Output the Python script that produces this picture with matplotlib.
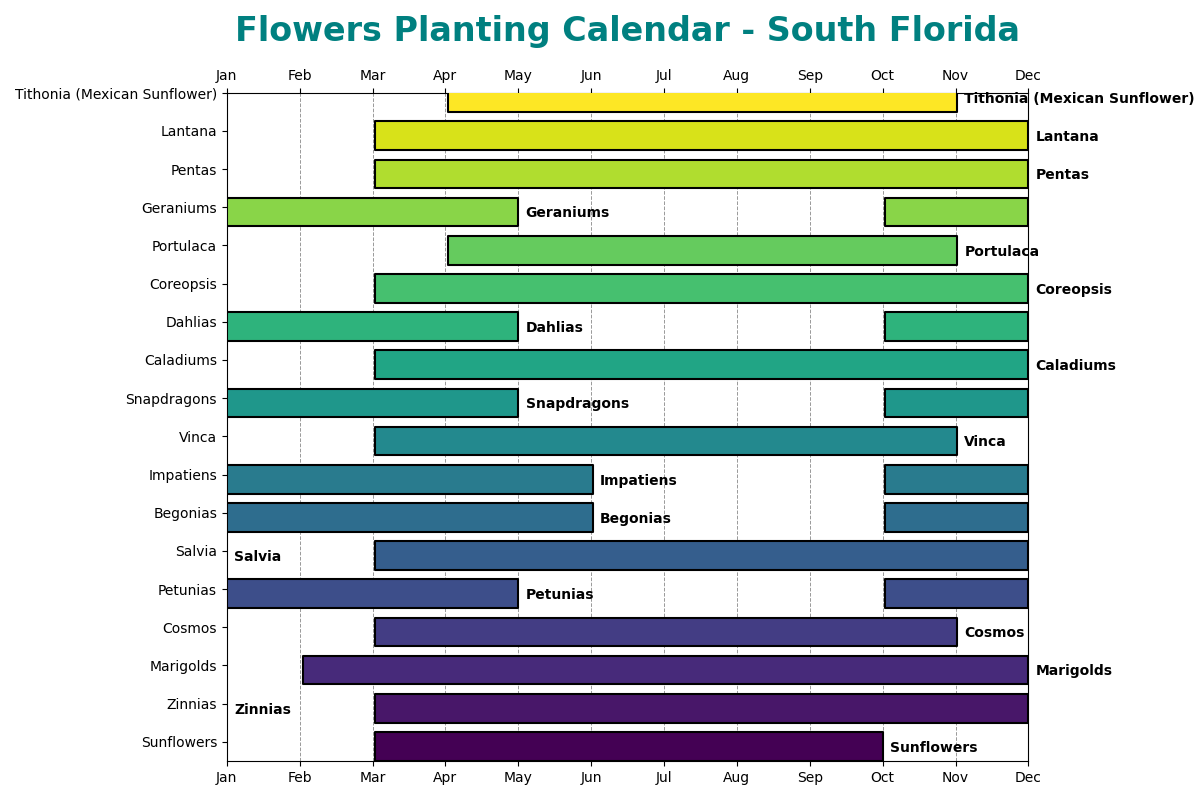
import numpy as np
import matplotlib
matplotlib.use('Agg')
import matplotlib.pyplot as plt

# month index: Jan=0 ... Dec=11
months = ['Jan', 'Feb', 'Mar', 'Apr', 'May', 'Jun', 'Jul', 'Aug', 'Sep', 'Oct', 'Nov', 'Dec']

# bottom row first
flowers = ['Sunflowers', 'Zinnias', 'Marigolds', 'Cosmos', 'Petunias', 'Salvia',
           'Begonias', 'Impatiens', 'Vinca', 'Snapdragons', 'Caladiums', 'Dahlias',
           'Coreopsis', 'Portulaca', 'Geraniums', 'Pentas', 'Lantana',
           'Tithonia (Mexican Sunflower)']

# planting periods (start, end) in months; label goes after the first period
periods = [
    [(2.04, 9.0)],                      # Sunflowers
    [(0, 0), (2.04, 11)],               # Zinnias
    [(1.04, 11)],                       # Marigolds
    [(2.04, 10.02)],                    # Cosmos
    [(0, 4.0), (9.03, 11)],             # Petunias
    [(0, 0), (2.04, 11)],               # Salvia
    [(0, 5.02), (9.03, 11)],            # Begonias
    [(0, 5.02), (9.03, 11)],            # Impatiens
    [(2.04, 10.02)],                    # Vinca
    [(0, 4.0), (9.03, 11)],             # Snapdragons
    [(2.04, 11)],                       # Caladiums
    [(0, 4.0), (9.03, 11)],             # Dahlias
    [(2.04, 11)],                       # Coreopsis
    [(3.04, 10.02)],                    # Portulaca
    [(0, 4.0), (9.03, 11)],             # Geraniums
    [(2.04, 11)],                       # Pentas
    [(2.04, 11)],                       # Lantana
    [(3.04, 10.02)],                    # Tithonia
]

fig, ax = plt.subplots(figsize=(12, 8), dpi=100)
fig.subplots_adjust(left=0.189, right=0.857, top=0.884, bottom=0.049)

cmap = plt.get_cmap('viridis')
n = len(flowers)
for i, (name, segs) in enumerate(zip(flowers, periods)):
    color = cmap(i / (n - 1))
    bars = [(s, e - s) for s, e in segs if e > s]
    ax.broken_barh(bars, (i - 0.5, 0.75), facecolors=color, edgecolor='black',
                   linewidth=1.5, zorder=3)
    ax.text(segs[0][1] + 0.1, i - 0.16, name, va='center', ha='left',
            fontsize=10, fontweight='bold', clip_on=False, zorder=4)

ax.set_yticks(range(n))
ax.set_yticklabels(flowers, fontsize=10)
ax.set_xticks(range(len(months)))
ax.set_xticklabels(months, fontsize=10)
ax.tick_params(axis='x', top=True, labeltop=True)
ax.set_xlim(0, 11)
ax.set_ylim(-0.5, n - 1)
ax.grid(True, axis='x', linestyle='--', color='gray', linewidth=0.7, alpha=0.8, zorder=0)
ax.set_axisbelow(True)

ax.set_title('Flowers Planting Calendar - South Florida', fontsize=24,
             fontweight='bold', color='#008080', pad=20)

fig.savefig('out.png', dpi=100)
plt.close(fig)
